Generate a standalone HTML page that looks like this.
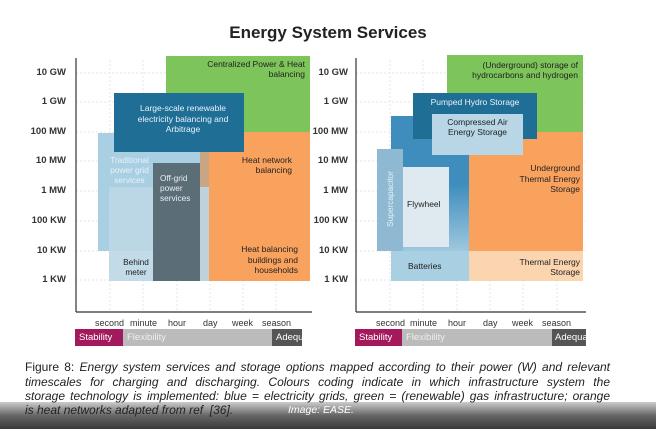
<!DOCTYPE html><html><head><style>
body{margin:0;width:656px;height:429px;overflow:hidden;background:#fff;font-family:"Liberation Sans",sans-serif;position:relative}
.a{position:absolute}
.t{position:absolute;font-size:9px;color:#333}
.yl{position:absolute;font-size:9.5px;font-weight:bold;color:#333;text-align:right;width:50px}
.cl{position:absolute;left:25px;width:585px;font-size:12px;font-style:italic;color:#222;text-align:justify;text-align-last:justify;white-space:nowrap;line-height:14px}
.bl{position:absolute;top:329px;height:17px;overflow:hidden;font-size:9.5px;line-height:17px;white-space:nowrap}
</style></head><body>
<div class="a" style="left:0;top:23px;width:656px;text-align:center;font-size:17px;font-weight:bold;color:#222">Energy System Services</div>
<svg class="a" style="left:0;top:0" width="656" height="429">
<g stroke="#e6e6e6" stroke-dasharray="2,2">
<line x1="76" y1="73" x2="310" y2="73"/><line x1="76" y1="102" x2="310" y2="102"/><line x1="76" y1="132" x2="310" y2="132"/><line x1="76" y1="161" x2="310" y2="161"/><line x1="76" y1="191" x2="310" y2="191"/><line x1="76" y1="221" x2="310" y2="221"/><line x1="76" y1="251" x2="310" y2="251"/><line x1="76" y1="280" x2="310" y2="280"/>
<line x1="110" y1="60" x2="110" y2="312"/><line x1="143" y1="60" x2="143" y2="312"/><line x1="177" y1="60" x2="177" y2="312"/><line x1="210" y1="60" x2="210" y2="312"/><line x1="243" y1="60" x2="243" y2="312"/><line x1="276" y1="60" x2="276" y2="312"/>
<line x1="356" y1="73" x2="585" y2="73"/><line x1="356" y1="102" x2="585" y2="102"/><line x1="356" y1="132" x2="585" y2="132"/><line x1="356" y1="161" x2="585" y2="161"/><line x1="356" y1="191" x2="585" y2="191"/><line x1="356" y1="221" x2="585" y2="221"/><line x1="356" y1="251" x2="585" y2="251"/><line x1="356" y1="280" x2="585" y2="280"/>
<line x1="390" y1="60" x2="390" y2="312"/><line x1="423" y1="60" x2="423" y2="312"/><line x1="457" y1="60" x2="457" y2="312"/><line x1="490" y1="60" x2="490" y2="312"/><line x1="523" y1="60" x2="523" y2="312"/><line x1="557" y1="60" x2="557" y2="312"/>
</g>
<rect x="166" y="56" width="144" height="76" fill="#7dc45a"/>
<rect x="160" y="132" width="150" height="149" fill="#f9a25e"/>
<rect x="160" y="152" width="49" height="129" fill="#c8a585"/>
<rect x="98" y="133" width="102" height="118" fill="#a9cfe3"/>
<rect x="109" y="187" width="100" height="94" fill="#bcd7e5" opacity="0.9"/>
<rect x="153" y="163" width="47" height="118" fill="#5b6e78"/>
<rect x="114" y="93" width="130" height="59" fill="#1f6e96"/>
<line x1="76" y1="58" x2="76" y2="312" stroke="#333" stroke-width="1.2"/><line x1="76" y1="312" x2="312" y2="312" stroke="#333" stroke-width="1.2"/>
<rect x="75" y="329" width="48" height="17" fill="#a3195b"/><rect x="123" y="329" width="149" height="17" fill="#bbb"/><rect x="272" y="329" width="30" height="17" fill="#555"/>
<defs><linearGradient id="g" x1="0" y1="0" x2="0" y2="1"><stop offset="0.5" stop-color="#3e8dbd"/><stop offset="1" stop-color="#9ec8de"/></linearGradient></defs>
<rect x="447" y="55" width="136" height="77" fill="#7dc45a"/>
<rect x="469" y="132" width="114" height="119" fill="#f9a25e"/>
<rect x="469" y="251" width="114" height="30" fill="#fbd5b0"/>
<rect x="391" y="116" width="78" height="135" fill="url(#g)"/>
<rect x="391" y="251" width="78" height="30" fill="#a9cfe3"/>
<rect x="413" y="93" width="124" height="46" fill="#1f6e96"/>
<rect x="432" y="114" width="91" height="41" fill="#b8d6e5"/>
<rect x="377" y="149" width="26" height="102" fill="#8fb9d2"/>
<rect x="403" y="167" width="46" height="80" fill="#dfeaf0"/>
<line x1="356" y1="58" x2="356" y2="312" stroke="#333" stroke-width="1.2"/><line x1="356" y1="312" x2="586" y2="312" stroke="#333" stroke-width="1.2"/>
<rect x="355" y="329" width="47" height="17" fill="#a3195b"/><rect x="402" y="329" width="150" height="17" fill="#bbb"/><rect x="552" y="329" width="34" height="17" fill="#555"/>
<defs><linearGradient id="b" x1="0" y1="0" x2="0" y2="1"><stop offset="0" stop-color="#ccc"/><stop offset="0.5" stop-color="#666"/><stop offset="1" stop-color="#3a3a3a"/></linearGradient></defs>
<rect x="0" y="402" width="656" height="27" fill="url(#b)"/>
</svg>
<div class="yl" style="left:16px;top:67px">10 GW</div><div class="yl" style="left:16px;top:96px">1 GW</div><div class="yl" style="left:16px;top:126px">100 MW</div><div class="yl" style="left:16px;top:155px">10 MW</div><div class="yl" style="left:16px;top:185px">1 MW</div><div class="yl" style="left:16px;top:215px">100 KW</div><div class="yl" style="left:16px;top:245px">10 KW</div><div class="yl" style="left:16px;top:274px">1 KW</div>
<div class="yl" style="left:298px;top:67px">10 GW</div><div class="yl" style="left:298px;top:96px">1 GW</div><div class="yl" style="left:298px;top:126px">100 MW</div><div class="yl" style="left:298px;top:155px">10 MW</div><div class="yl" style="left:298px;top:185px">1 MW</div><div class="yl" style="left:298px;top:215px">100 KW</div><div class="yl" style="left:298px;top:245px">10 KW</div><div class="yl" style="left:298px;top:274px">1 KW</div>
<div class="t" style="left:95px;top:318px">second</div><div class="t" style="left:130px;top:318px">minute</div><div class="t" style="left:168px;top:318px">hour</div><div class="t" style="left:203px;top:318px">day</div><div class="t" style="left:232px;top:318px">week</div><div class="t" style="left:262px;top:318px">season</div>
<div class="t" style="left:376px;top:318px">second</div><div class="t" style="left:410px;top:318px">minute</div><div class="t" style="left:448px;top:318px">hour</div><div class="t" style="left:483px;top:318px">day</div><div class="t" style="left:512px;top:318px">week</div><div class="t" style="left:542px;top:318px">season</div>
<div class="bl" style="left:79px;width:44px;color:#fff">Stability</div><div class="bl" style="left:127px;width:140px;color:#eee">Flexibility</div><div class="bl" style="left:276px;width:26px;color:#fff">Adequacy</div>
<div class="bl" style="left:359px;width:43px;color:#fff">Stability</div><div class="bl" style="left:406px;width:140px;color:#eee">Flexibility</div><div class="bl" style="left:555px;width:31px;color:#fff">Adequacy</div>
<div class="t" style="left:170px;top:59px;width:135px;text-align:right;font-size:8.5px;line-height:10px;color:#222">Centralized Power &amp; Heat<br>balancing</div>
<div class="t" style="left:128px;top:103px;width:110px;text-align:center;font-size:8.5px;line-height:10.5px;color:#e8f2f8">Large-scale renewable<br>electricity balancing and<br>Arbitrage</div>
<div class="t" style="left:102px;top:155px;width:55px;text-align:center;font-size:8.3px;line-height:10px;color:#e8f2f8">Traditional<br>power grid<br>services</div>
<div class="t" style="left:160px;top:173px;font-size:8.3px;line-height:10px;color:#e8eef0">Off-grid<br>power<br>services</div>
<div class="t" style="left:116px;top:257px;width:40px;text-align:center;font-size:8.3px;line-height:10px;color:#222">Behind<br>meter</div>
<div class="t" style="left:220px;top:155px;width:72px;text-align:right;font-size:8.5px;line-height:10px;color:#222">Heat network<br>balancing</div>
<div class="t" style="left:220px;top:244px;width:78px;text-align:right;font-size:8.5px;line-height:10.5px;color:#222">Heat balancing<br>buildings and<br>households</div>
<div class="t" style="left:450px;top:60px;width:128px;text-align:right;font-size:8.5px;line-height:10px;color:#222">(Underground) storage of<br>hydrocarbons and hydrogen</div>
<div class="t" style="left:413px;top:97px;width:124px;text-align:center;font-size:8.5px;color:#e8f2f8">Pumped Hydro Storage</div>
<div class="t" style="left:432px;top:117px;width:91px;text-align:center;font-size:8.5px;line-height:10px;color:#222">Compressed Air<br>Energy Storage</div>
<div class="t" style="left:407px;top:199px;font-size:8.5px;color:#222">Flywheel</div>
<div class="t" style="left:408px;top:261px;font-size:8.5px;color:#222">Batteries</div>
<div class="t" style="left:360px;top:194px;width:60px;text-align:center;font-size:8.3px;color:#e8f2f8;transform:rotate(-90deg)">Supercapacitor</div>
<div class="t" style="left:480px;top:163px;width:100px;text-align:right;font-size:8.5px;line-height:10.5px;color:#222">Underground<br>Thermal Energy<br>Storage</div>
<div class="t" style="left:480px;top:257px;width:100px;text-align:right;font-size:8.5px;line-height:10px;color:#222">Thermal Energy<br>Storage</div>
<div class="cl" style="top:360px"><span style="font-style:normal">Figure 8:</span> Energy system services and storage options mapped according to their power (W) and relevant</div>
<div class="cl" style="top:375px">timescales for charging and discharging. Colours coding indicate in which infrastructure system the</div>
<div class="cl" style="top:389px">storage technology is implemented: blue = electricity grids, green = (renewable) gas infrastructure; orange</div>
<div class="a" style="left:25px;top:403px;font-size:12px;font-style:italic;color:#222">is heat networks adapted from ref&nbsp; [36].</div>
<div class="a" style="left:288px;top:404px;font-size:10.5px;font-style:italic;color:#fff">Image: EASE.</div>
</body></html>
